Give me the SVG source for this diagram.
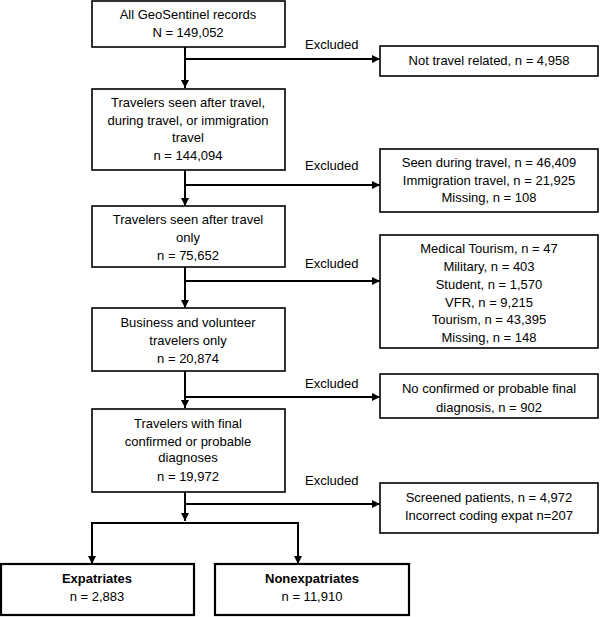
<svg xmlns="http://www.w3.org/2000/svg" width="600" height="617" viewBox="0 0 600 617">
<style>
.box{fill:#fff;stroke:#000;stroke-width:1.6}
.bb{fill:#fff;stroke:#000;stroke-width:2.2}
text{font-family:"Liberation Sans",Arial,sans-serif;font-size:13px;fill:#000;text-anchor:middle}
.b{font-weight:bold}
.l{text-anchor:start}
.c{fill:none;stroke:#000;stroke-width:2}
</style>
<defs>
<marker id="ah" viewBox="0 0 8 8" refX="8" refY="4" markerWidth="8" markerHeight="8" markerUnits="userSpaceOnUse" orient="auto">
<path d="M0,0 L8,4 L0,8 Z" fill="#000"/>
</marker>
</defs>
<g id="connectors">
<path class="c" d="M185,47 V88" marker-end="url(#ah)"/>
<path class="c" d="M185,59 H380" marker-end="url(#ah)"/>
<path class="c" d="M185,170 V206" marker-end="url(#ah)"/>
<path class="c" d="M185,185 H380" marker-end="url(#ah)"/>
<path class="c" d="M185,267 V308" marker-end="url(#ah)"/>
<path class="c" d="M185,281 H380" marker-end="url(#ah)"/>
<path class="c" d="M185,371 V408" marker-end="url(#ah)"/>
<path class="c" d="M185,397 H380" marker-end="url(#ah)"/>
<path class="c" d="M185,492 V521" marker-end="url(#ah)"/>
<path class="c" d="M185,504 H380" marker-end="url(#ah)"/>
<path class="c" d="M92,564 V523 H298 V564" />
<path class="c" d="M92,530 V564" marker-end="url(#ah)"/>
<path class="c" d="M298,530 V564" marker-end="url(#ah)"/>
<text class="l" x="305" y="49">Excluded</text>
<text class="l" x="305" y="170">Excluded</text>
<text class="l" x="305" y="268">Excluded</text>
<text class="l" x="305" y="388">Excluded</text>
<text class="l" x="305" y="485">Excluded</text>
</g>
<g id="n1">
<rect class="box" x="92" y="1" width="193" height="46"/>
<text x="188" y="19">All GeoSentinel records</text>
<text x="188" y="37">N = 149,052</text>
</g>
<g id="x1">
<rect class="box" x="380" y="46" width="218" height="30"/>
<text x="489" y="65">Not travel related, n = 4,958</text>
</g>
<g id="n2">
<rect class="box" x="92" y="89" width="193" height="81"/>
<text x="188" y="107">Travelers seen after travel,</text>
<text x="188" y="125">during travel, or immigration</text>
<text x="188" y="142">travel</text>
<text x="188" y="160">n = 144,094</text>
</g>
<g id="x2">
<rect class="box" x="380" y="149" width="218" height="63"/>
<text x="489" y="167">Seen during travel, n = 46,409</text>
<text x="489" y="185">Immigration travel, n = 21,925</text>
<text x="489" y="202">Missing, n = 108</text>
</g>
<g id="n3">
<rect class="box" x="92" y="206" width="193" height="61"/>
<text x="188" y="224">Travelers seen after travel</text>
<text x="188" y="242">only</text>
<text x="188" y="260">n = 75,652</text>
</g>
<g id="x3">
<rect class="box" x="380" y="235" width="218" height="113"/>
<text x="489" y="253">Medical Tourism, n = 47</text>
<text x="489" y="271">Military, n = 403</text>
<text x="489" y="289">Student, n = 1,570</text>
<text x="489" y="307">VFR, n = 9,215</text>
<text x="489" y="324">Tourism, n = 43,395</text>
<text x="489" y="342">Missing, n = 148</text>
</g>
<g id="n4">
<rect class="box" x="92" y="308" width="193" height="63"/>
<text x="188" y="327">Business and volunteer</text>
<text x="188" y="345">travelers only</text>
<text x="188" y="363">n = 20,874</text>
</g>
<g id="x4">
<rect class="box" x="380" y="374" width="218" height="44"/>
<text x="489" y="393">No confirmed or probable final</text>
<text x="489" y="412">diagnosis, n = 902</text>
</g>
<g id="n5">
<rect class="box" x="92" y="409" width="193" height="83"/>
<text x="188" y="428">Travelers with final</text>
<text x="188" y="446">confirmed or probable</text>
<text x="188" y="462">diagnoses</text>
<text x="188" y="481">n = 19,972</text>
</g>
<g id="x5">
<rect class="box" x="380" y="483" width="218" height="50"/>
<text x="489" y="502">Screened patients, n = 4,972</text>
<text x="489" y="520">Incorrect coding expat n=207</text>
</g>
<g id="n6">
<rect class="bb" x="1" y="564" width="193" height="51"/>
<text class="b" x="97" y="583">Expatriates</text>
<text x="97" y="601">n = 2,883</text>
</g>
<g id="n7">
<rect class="bb" x="215" y="564" width="194" height="51"/>
<text class="b" x="312" y="583">Nonexpatriates</text>
<text x="312" y="601">n = 11,910</text>
</g>
</svg>
